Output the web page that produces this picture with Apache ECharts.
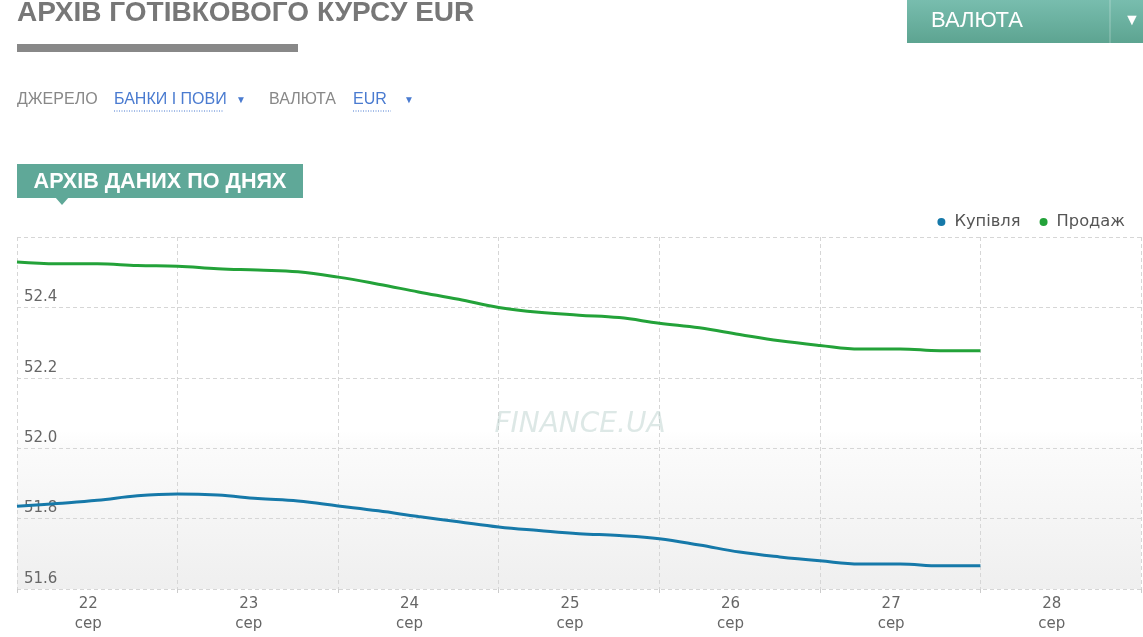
<!DOCTYPE html>
<html>
<head>
<meta charset="utf-8">
<script src="https://cdn.jsdelivr.net/npm/echarts@6/dist/echarts.min.js"></script>
<style>
html,body{margin:0;padding:0;background:#fff;}
#chart{width:1143px;height:637px;}
</style>
</head>
<body>
<div id="chart"></div>
<script>
// Time in days from 22 сер 00:00, 6-hour steps
const times = [0,0.25,0.5,0.75,1,1.25,1.5,1.75,2,2.25,2.5,2.75,3,3.25,3.5,3.75,4,4.25,4.5,4.75,5,5.25,5.5,5.75,6];
const buyValues = [51.835,51.843,51.852,51.865,51.870,51.867,51.857,51.850,51.836,51.822,51.806,51.791,51.776,51.766,51.757,51.752,51.743,51.725,51.705,51.691,51.680,51.671,51.671,51.666,51.666];
const sellValues = [52.529,52.524,52.524,52.519,52.517,52.510,52.506,52.501,52.486,52.466,52.444,52.423,52.400,52.386,52.378,52.371,52.355,52.342,52.323,52.305,52.292,52.282,52.282,52.277,52.277];
const dayLabels = ['22','23','24','25','26','27','28'];
const monthLabel = 'сер';
const yTicks = [51.6,51.8,52.0,52.2,52.4];
const seriesNames = ['Купівля','Продаж'];

const chart = echarts.init(document.getElementById('chart'));
const font = "'Liberation Sans', Arial, sans-serif";
const axisFont = "'DejaVu Sans', Verdana, sans-serif";

const option = {
  animation: false,
  textStyle: {fontFamily: font},
  legend: {
    data: seriesNames,
    right: 13, top: 209,
    icon: 'circle', itemWidth: 8, itemHeight: 8, itemGap: 19,
    textStyle: {fontSize: 16.3, color: '#555', fontFamily: axisFont, padding: [0,0,0,4]}
  },
  grid: {
    left: 17, right: 2, top: 237, bottom: 48,
    outerBoundsMode: 'none', containLabel: false,
    show: true, borderWidth: 0,
    backgroundColor: new echarts.graphic.LinearGradient(0,0,0,1,[
      {offset:0,color:'#ffffff'},{offset:0.55,color:'#ffffff'},{offset:0.6,color:'#fbfbfb'},{offset:1,color:'#efefef'}
    ])
  },
  xAxis: [
    {
      type: 'value', min: 0, max: 7, interval: 1,
      axisLine: {show: false},
      axisTick: {show: true, length: 6, lineStyle: {color: '#ccc', type: 'dashed'}},
      splitLine: {show: true, lineStyle: {color: '#d6d6d6', type: [4,3], width: 1}},
      axisLabel: {show: false}
    },
    {
      type: 'category', data: dayLabels, boundaryGap: true, position: 'bottom',
      axisLine: {show: false}, axisTick: {show: false}, splitLine: {show: false},
      axisLabel: {
        interval: 0, margin: 5,
        fontSize: 15, color: '#666', lineHeight: 20, fontFamily: axisFont,
        padding: [0,18,0,0],
        formatter: v => v + '\n' + monthLabel
      }
    }
  ],
  yAxis: {
    type: 'value', min: 51.6, max: 52.6, interval: 0.2,
    axisLine: {show: false}, axisTick: {show: false},
    splitLine: {show: true, lineStyle: {color: '#d6d6d6', type: [4,3], width: 1}},
    axisLabel: {
      inside: true, margin: 7, fontSize: 15, color: '#666', fontFamily: axisFont,
      verticalAlign: 'bottom', lineHeight: 16, padding: [0,0,2,0],
      formatter: v => {
        const hit = yTicks.find(t => Math.abs(t - v) < 1e-6);
        return hit === undefined ? '' : hit.toFixed(1);
      }
    }
  },
  series: [
    {
      name: seriesNames[0], type: 'line', smooth: 0.4, showSymbol: false, xAxisIndex: 0,
      data: times.map((t,i) => [t, buyValues[i]]),
      lineStyle: {color: '#1679a9', width: 3}, itemStyle: {color: '#1679a9'}
    },
    {
      name: seriesNames[1], type: 'line', smooth: 0.4, showSymbol: false, xAxisIndex: 0,
      data: times.map((t,i) => [t, sellValues[i]]),
      lineStyle: {color: '#23a239', width: 3}, itemStyle: {color: '#23a239'}
    }
  ],
  graphic: [
    {type:'text', x:17, y:13, style:{text:'АРХІВ ГОТІВКОВОГО КУРСУ EUR', font:"bold 28px "+font, fill:'#777', verticalAlign:'middle'}},
    {type:'rect', shape:{x:17,y:44,width:281,height:8}, style:{fill:'#888'}},
    {type:'text', x:17, y:100, style:{text:'ДЖЕРЕЛО', font:"16px "+font, fill:'#888', verticalAlign:'middle'}},
    {type:'text', x:114, y:100, style:{text:'БАНКИ І ПОВИ', font:"16px "+font, fill:'#4a7bd0', verticalAlign:'middle'}},
    {type:'line', shape:{x1:114,y1:111,x2:223,y2:111}, style:{stroke:'#4a7bd0', lineWidth:1, lineDash:[1,1.5]}},
    {type:'text', x:241, y:100, style:{text:'▼', font:"10px "+font, fill:'#4a7bd0', align:'center', verticalAlign:'middle'}},
    {type:'text', x:269, y:100, style:{text:'ВАЛЮТА', font:"16px "+font, fill:'#888', verticalAlign:'middle'}},
    {type:'text', x:353, y:100, style:{text:'EUR', font:"16px "+font, fill:'#4a7bd0', verticalAlign:'middle'}},
    {type:'line', shape:{x1:353,y1:111,x2:391,y2:111}, style:{stroke:'#4a7bd0', lineWidth:1, lineDash:[1,1.5]}},
    {type:'text', x:409, y:100, style:{text:'▼', font:"10px "+font, fill:'#4a7bd0', align:'center', verticalAlign:'middle'}},
    {type:'rect', shape:{x:17,y:164,width:286,height:34}, style:{fill:'#5fa898'}},
    {type:'polygon', shape:{points:[[55,197],[69,197],[62,205]]}, style:{fill:'#5fa898'}},
    {type:'text', x:160, y:182, style:{text:'АРХІВ ДАНИХ ПО ДНЯХ', font:"bold 21.6px "+font, fill:'#fff', align:'center', verticalAlign:'middle'}},
    {type:'rect', shape:{x:907,y:0,width:236,height:43}, style:{fill:new echarts.graphic.LinearGradient(0,0,0,1,[{offset:0,color:'#78bdae'},{offset:1,color:'#5da491'}])}},
    {type:'line', shape:{x1:1110,y1:0,x2:1110,y2:43}, style:{stroke:'rgba(255,255,255,0.35)', lineWidth:1}},
    {type:'text', x:931, y:21, style:{text:'ВАЛЮТА', font:"22px "+font, fill:'#fff', verticalAlign:'middle'}},
    {type:'text', x:1132, y:21, style:{text:'▼', font:"16px "+font, fill:'#fff', align:'center', verticalAlign:'middle'}},
    {type:'text', x:580, y:425, z:5, silent:true, style:{text:'FINANCE.UA', font:"italic 28px 'DejaVu Sans', sans-serif", fill:'rgba(180,204,200,0.45)', align:'center', verticalAlign:'middle'}}
  ]
};
chart.setOption(option);
</script>
</body>
</html>
